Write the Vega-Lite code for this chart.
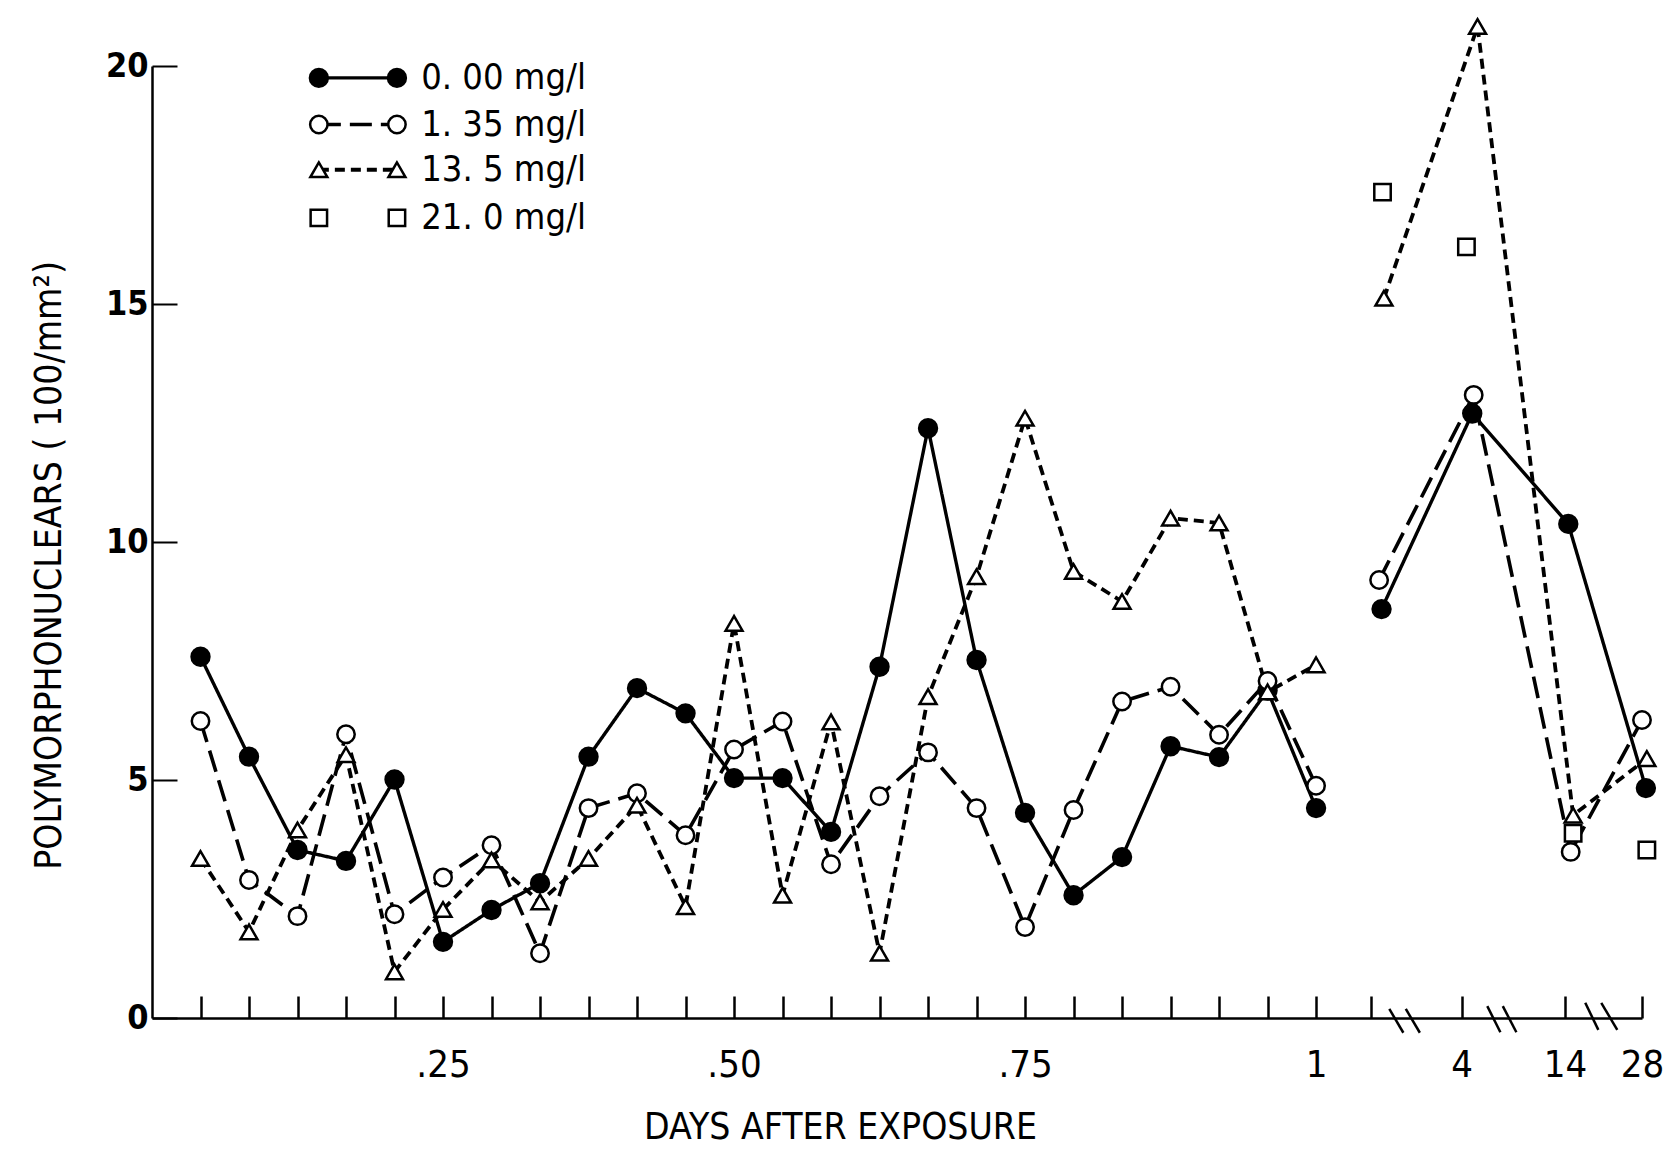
{
  "$schema": "https://vega.github.io/schema/vega-lite/v6.json",
  "width": 1490,
  "height": 952,
  "autosize": {"type": "none"},
  "padding": {"left": 152, "top": 66, "right": 26, "bottom": 133},
  "background": "white",
  "config": {
    "view": {"stroke": null},
    "font": "DejaVu Sans Condensed"
  },
  "datasets": {
    "pts": [
      {"s":"0.00","g":"a","x":1,"v":7.59},{"s":"0.00","g":"a","x":2,"v":5.49},{"s":"0.00","g":"a","x":3,"v":3.53},{"s":"0.00","g":"a","x":4,"v":3.30},
      {"s":"0.00","g":"a","x":5,"v":5.01},{"s":"0.00","g":"a","x":6,"v":1.60},{"s":"0.00","g":"a","x":7,"v":2.27},{"s":"0.00","g":"a","x":8,"v":2.83},
      {"s":"0.00","g":"a","x":9,"v":5.49},{"s":"0.00","g":"a","x":10,"v":6.93},{"s":"0.00","g":"a","x":11,"v":6.40},{"s":"0.00","g":"a","x":12,"v":5.04},
      {"s":"0.00","g":"a","x":13,"v":5.04},{"s":"0.00","g":"a","x":14,"v":3.91},{"s":"0.00","g":"a","x":15,"v":7.38},{"s":"0.00","g":"a","x":16,"v":12.39},
      {"s":"0.00","g":"a","x":17,"v":7.52},{"s":"0.00","g":"a","x":18,"v":4.31},{"s":"0.00","g":"a","x":19,"v":2.58},{"s":"0.00","g":"a","x":20,"v":3.38},
      {"s":"0.00","g":"a","x":21,"v":5.71},{"s":"0.00","g":"a","x":22,"v":5.48},{"s":"0.00","g":"a","x":23,"v":6.88},{"s":"0.00","g":"a","x":24,"v":4.41},
      {"s":"0.00","g":"b","x":25.35,"v":8.59},{"s":"0.00","g":"b","x":27.22,"v":12.70},{"s":"0.00","g":"b","x":29.2,"v":10.38},{"s":"0.00","g":"b","x":30.8,"v":4.83},

      {"s":"1.35","g":"a","x":1,"v":6.24},{"s":"1.35","g":"a","x":2,"v":2.90},{"s":"1.35","g":"a","x":3,"v":2.14},{"s":"1.35","g":"a","x":4,"v":5.96},
      {"s":"1.35","g":"a","x":5,"v":2.18},{"s":"1.35","g":"a","x":6,"v":2.95},{"s":"1.35","g":"a","x":7,"v":3.63},{"s":"1.35","g":"a","x":8,"v":1.36},
      {"s":"1.35","g":"a","x":9,"v":4.41},{"s":"1.35","g":"a","x":10,"v":4.72},{"s":"1.35","g":"a","x":11,"v":3.84},{"s":"1.35","g":"a","x":12,"v":5.64},
      {"s":"1.35","g":"a","x":13,"v":6.23},{"s":"1.35","g":"a","x":14,"v":3.23},{"s":"1.35","g":"a","x":15,"v":4.66},{"s":"1.35","g":"a","x":16,"v":5.58},
      {"s":"1.35","g":"a","x":17,"v":4.41},{"s":"1.35","g":"a","x":18,"v":1.91},{"s":"1.35","g":"a","x":19,"v":4.37},{"s":"1.35","g":"a","x":20,"v":6.65},
      {"s":"1.35","g":"a","x":21,"v":6.96},{"s":"1.35","g":"a","x":22,"v":5.95},{"s":"1.35","g":"a","x":23,"v":7.08},{"s":"1.35","g":"a","x":24,"v":4.88},
      {"s":"1.35","g":"b","x":25.3,"v":9.20},{"s":"1.35","g":"b","x":27.25,"v":13.09},{"s":"1.35","g":"b","x":29.25,"v":3.49},{"s":"1.35","g":"b","x":30.72,"v":6.26},

      {"s":"13.5","g":"a","x":1,"v":3.35},{"s":"13.5","g":"a","x":2,"v":1.81},{"s":"13.5","g":"a","x":3,"v":3.95},{"s":"13.5","g":"a","x":4,"v":5.53},
      {"s":"13.5","g":"a","x":5,"v":0.97},{"s":"13.5","g":"a","x":6,"v":2.28},{"s":"13.5","g":"a","x":7,"v":3.32},{"s":"13.5","g":"a","x":8,"v":2.44},
      {"s":"13.5","g":"a","x":9,"v":3.35},{"s":"13.5","g":"a","x":10,"v":4.47},{"s":"13.5","g":"a","x":11,"v":2.34},{"s":"13.5","g":"a","x":12,"v":8.29},
      {"s":"13.5","g":"a","x":13,"v":2.58},{"s":"13.5","g":"a","x":14,"v":6.22},{"s":"13.5","g":"a","x":15,"v":1.36},{"s":"13.5","g":"a","x":16,"v":6.75},
      {"s":"13.5","g":"a","x":17,"v":9.27},{"s":"13.5","g":"a","x":18,"v":12.60},{"s":"13.5","g":"a","x":19,"v":9.38},{"s":"13.5","g":"a","x":20,"v":8.75},
      {"s":"13.5","g":"a","x":21,"v":10.5},{"s":"13.5","g":"a","x":22,"v":10.4},{"s":"13.5","g":"a","x":23,"v":6.85},{"s":"13.5","g":"a","x":24,"v":7.42},
      {"s":"13.5","g":"b","x":25.4,"v":15.12},{"s":"13.5","g":"b","x":27.33,"v":20.83},{"s":"13.5","g":"b","x":29.3,"v":4.26},{"s":"13.5","g":"b","x":30.82,"v":5.45},

      {"s":"21.0","g":"b","x":25.37,"v":17.35},{"s":"21.0","g":"b","x":27.1,"v":16.20},{"s":"21.0","g":"b","x":29.3,"v":3.88},{"s":"21.0","g":"b","x":30.82,"v":3.53}
    ],
    "legpts": [
      {"s":"0.00","x":3.44,"v":19.75},{"s":"0.00","x":5.05,"v":19.75},
      {"s":"1.35","x":3.44,"v":18.77},{"s":"1.35","x":5.05,"v":18.77},
      {"s":"13.5","x":3.44,"v":17.82},{"s":"13.5","x":5.05,"v":17.82},
      {"s":"21.0","x":3.44,"v":16.81},{"s":"21.0","x":5.05,"v":16.81}
    ],
    "legrules": [
      {"s":"0.00","x":3.44,"x2":5.05,"v":19.75},
      {"s":"1.35","x":3.44,"x2":5.05,"v":18.77},
      {"s":"13.5","x":3.44,"x2":5.05,"v":17.82}
    ],
    "legtext": [
      {"t":"0. 00  mg/l","x":5.55,"v":19.75},
      {"t":"1. 35 mg/l","x":5.55,"v":18.77},
      {"t":"13. 5 mg/l","x":5.55,"v":17.82},
      {"t":"21. 0 mg/l","x":5.55,"v":16.81}
    ],
    "breaks": [
      {"x":25.51,"x2":25.8,"y":0.19,"y2":-0.31},{"x":25.85,"x2":26.14,"y":0.19,"y2":-0.31},
      {"x":27.53,"x2":27.8,"y":0.25,"y2":-0.3},{"x":27.85,"x2":28.13,"y":0.25,"y2":-0.3},
      {"x":29.55,"x2":29.82,"y":0.32,"y2":-0.25},{"x":29.88,"x2":30.21,"y":0.32,"y2":-0.25}
    ]
  },
  "layer": [
    {
      "data": {"name": "pts"},
      "transform": [{"filter": "datum.s != '21.0'"}, {"calculate": "datum.s + datum.g", "as": "sg"}],
      "mark": {"type": "line", "color": "black", "clip": false},
      "encoding": {
        "x": {
          "field": "x", "type": "quantitative",
          "scale": {"domain": [0, 30.72], "nice": false, "zero": false},
          "axis": {
            "values": [1,2,3,4,5,6,7,8,9,10,11,12,13,14,15,16,17,18,19,20,21,22,23,24,25.13,27,29.13,30.72],
            "labelExpr": "datum.value==6?'.25':datum.value==12?'.50':datum.value==18?'.75':datum.value==24?'1':datum.value==27?'4':datum.value==29.13?'14':datum.value==30.72?'28':''",
            "grid": false,
            "domainColor": "black", "domainWidth": 2.5,
            "tickColor": "black", "tickWidth": 2.5, "tickSize": -22,
            "labelFont": "DejaVu Sans Condensed", "labelFontSize": 38, "labelColor": "black",
            "labelBaseline": "alphabetic", "labelPadding": 80, "labelOverlap": false, "labelFlush": false,
            "title": "DAYS AFTER EXPOSURE",
            "titleFont": "DejaVu Sans Condensed", "titleFontSize": 37, "titleFontWeight": "normal", "titleColor": "black",
            "titleX": 688, "titleY": 120, "titleBaseline": "alphabetic", "titleAlign": "center"
          }
        },
        "y": {
          "field": "v", "type": "quantitative",
          "scale": {"domain": [0, 20], "nice": false},
          "axis": {
            "values": [0,5,10,15,20],
            "grid": false,
            "domainColor": "black", "domainWidth": 2.5,
            "tickColor": "black", "tickWidth": 2, "tickSize": -25,
            "labelFont": "DejaVu Sans Condensed", "labelFontWeight": "bold", "labelFontSize": 34, "labelColor": "black",
            "labelPadding": 29, "labelOverlap": false, "labelFlush": false,
            "title": "POLYMORPHONUCLEARS ( 100/mm²)",
            "titleFont": "DejaVu Sans Condensed", "titleFontSize": 37, "titleFontWeight": "normal", "titleColor": "black",
            "titleX": -92, "titleY": 499, "titleBaseline": "alphabetic", "titleAlign": "center", "titleAngle": 270
          }
        },
        "detail": {"field": "sg"},
        "strokeDash": {"field": "s", "type": "nominal", "legend": null,
          "scale": {"domain": ["0.00","1.35","13.5"], "range": [[1,0],[22,9],[10,6]]}},
        "strokeWidth": {"field": "s", "type": "nominal", "legend": null,
          "scale": {"domain": ["0.00","1.35","13.5"], "range": [3.4,3.8,3.4]}}
      }
    },
    {
      "data": {"name": "legrules"},
      "mark": {"type": "rule", "color": "black"},
      "encoding": {
        "x": {"field": "x", "type": "quantitative"},
        "x2": {"field": "x2"},
        "y": {"field": "v", "type": "quantitative"},
        "strokeDash": {"field": "s", "type": "nominal", "legend": null},
        "strokeWidth": {"field": "s", "type": "nominal", "legend": null}
      }
    },
    {
      "data": {"name": "breaks"},
      "mark": {"type": "rule", "color": "black", "strokeWidth": 2.5, "clip": false},
      "encoding": {
        "x": {"field": "x", "type": "quantitative"},
        "x2": {"field": "x2"},
        "y": {"field": "y", "type": "quantitative"},
        "y2": {"field": "y2"}
      }
    },
    {
      "data": {"name": "pts"},
      "mark": {"type": "point", "stroke": "black", "strokeWidth": 2.5, "opacity": 1, "clip": false},
      "encoding": {
        "x": {"field": "x", "type": "quantitative"},
        "y": {"field": "v", "type": "quantitative"},
        "shape": {"field": "s", "type": "nominal", "legend": null,
          "scale": {"domain": ["0.00","1.35","13.5","21.0"], "range": ["circle","circle","triangle-up","square"]}},
        "fill": {"field": "s", "type": "nominal", "legend": null,
          "scale": {"domain": ["0.00","1.35","13.5","21.0"], "range": ["black","white","white","white"]}},
        "size": {"field": "s", "type": "nominal", "legend": null,
          "scale": {"domain": ["0.00","1.35","13.5","21.0"], "range": [320, 270, 540, 240]}}
      }
    },
    {
      "data": {"name": "legpts"},
      "mark": {"type": "point", "stroke": "black", "strokeWidth": 2.5, "opacity": 1},
      "encoding": {
        "x": {"field": "x", "type": "quantitative"},
        "y": {"field": "v", "type": "quantitative"},
        "shape": {"field": "s", "type": "nominal", "legend": null},
        "fill": {"field": "s", "type": "nominal", "legend": null},
        "size": {"field": "s", "type": "nominal", "legend": null}
      }
    },
    {
      "data": {"name": "legtext"},
      "mark": {"type": "text", "align": "left", "baseline": "middle", "font": "DejaVu Sans Condensed", "fontSize": 36, "color": "black"},
      "encoding": {
        "x": {"field": "x", "type": "quantitative"},
        "y": {"field": "v", "type": "quantitative"},
        "text": {"field": "t"}
      }
    }
  ]
}
